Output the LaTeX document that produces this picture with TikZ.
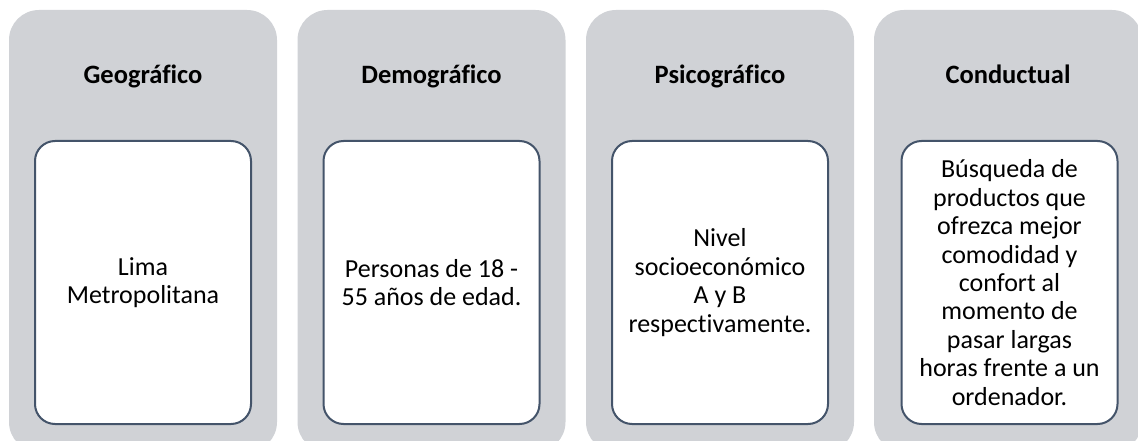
\documentclass[tikz,border=0pt]{standalone}
\usepackage{fontspec}
\setmainfont{Carlito}[Ligatures={NoCommon}]
\definecolor{panelgray}{HTML}{D0D2D6}
\definecolor{boxline}{HTML}{44546A}
\tikzset{
  panel/.style={fill=panelgray, draw=none, rounded corners=30pt},
  inner/.style={draw=boxline, line width=2pt, fill=white, rounded corners=20pt, minimum width=216pt, minimum height=283pt, inner sep=0pt},
  bodytext/.style={align=center, font=\fontsize{26}{28.4}\selectfont, text=black},
  titletext/.style={anchor=base, font=\bfseries\fontsize{26.5}{30}\selectfont, text=black}
}
\begin{document}
\begin{tikzpicture}[x=1pt,y=-1pt]
\useasboundingbox (0,0) rectangle (1138,441);
\clip (0,0) rectangle (1138,441);
% panels
\foreach \i/\xl in {1/9, 2/297.5, 3/586, 4/874} {
  \fill[panel] (\xl,10) rectangle ++(268,442);
}
% titles
\node[titletext] (t1) at (143,84) {Geográfico};
\node[titletext] (t2) at (431.5,84) {Demográfico};
\node[titletext] (t3) at (720,84) {Psicográfico};
\node[titletext] (t4) at (1008,84) {Conductual};
% inner boxes
\node[inner] (b1) at (143,282.5) {};
\node[inner] (b2) at (431.5,282.5) {};
\node[inner] (b3) at (720,282.5) {};
\node[inner] (b4) at (1009.5,282.5) {};
% texts
\node[bodytext] (x1) at (b1.center) {Lima\\Metropolitana};
\node[bodytext] (x2) at (b2.center) {Personas de 18 -\\55 años de edad.};
\node[bodytext] (x3) at (b3.center) {Nivel\\socioeconómico\\A y B\\respectivamente.};
\node[bodytext] (x4) at (b4.center) {Búsqueda de\\productos que\\ofrezca mejor\\comodidad y\\confort al\\momento de\\pasar largas\\horas frente a un\\ordenador.};
\end{tikzpicture}
\end{document}
